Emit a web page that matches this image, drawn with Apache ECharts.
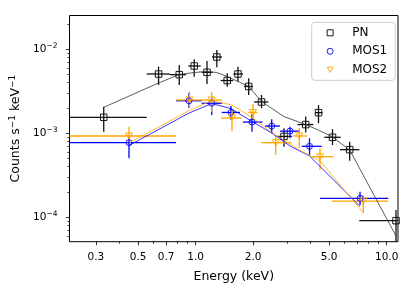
<!DOCTYPE html>
<html><head><meta charset="utf-8">
<script src="https://cdn.jsdelivr.net/npm/echarts@6/dist/echarts.min.js"></script>
<style>html,body{margin:0;padding:0;background:#fff}#c{width:415px;height:294px}</style>
</head><body><div id="c"></div>
<script>
// ---- PN ----
const pnE      = [0.330,0.639,0.820,0.982,1.146,1.290,1.462,1.665,1.894,2.211,2.900,3.767,4.395,5.203,6.40,11.19];
const pnELo    = [0.20,0.554,0.733,0.915,1.075,1.217,1.352,1.573,1.790,2.020,2.674,3.404,4.213,4.713,5.696,7.19];
const pnEHi    = [0.554,0.733,0.890,1.062,1.227,1.373,1.573,1.768,1.988,2.399,3.193,4.128,4.624,5.744,7.19,15];
const pnRate   = [1.55e-3,5.08e-3,4.99e-3,6.33e-3,5.32e-3,8.10e-3,4.25e-3,5.08e-3,3.61e-3,2.36e-3,9.17e-4,1.27e-3,1.76e-3,8.96e-4,6.38e-4,9.12e-5];
const pnRateHi = [2.07e-3,6.21e-3,6.50e-3,7.60e-3,7.26e-3,9.81e-3,5.18e-3,6.21e-3,4.52e-3,2.86e-3,1.15e-3,1.58e-3,2.17e-3,1.12e-3,7.94e-4,1.22e-4];
const pnRateLo = [1.045e-3,3.76e-3,3.76e-3,4.72e-3,3.86e-3,6.11e-3,3.59e-3,4.12e-3,2.86e-3,1.99e-3,6.92e-4,1.02e-3,1.32e-3,7.26e-4,4.72e-4,4e-5];
const pnModel  = [2.04e-3,3.97e-3,5.01e-3,5.29e-3,5.45e-3,5.29e-3,4.75e-3,4.14e-3,3.61e-3,2.39e-3,1.58e-3,1.27e-3,1.09e-3,9.04e-4,6.33e-4,5.98e-5];
// ---- MOS1 ----
const m1E      = [0.4475,0.922,1.213,1.530,1.971,2.500,3.117,3.944,7.25];
const m1ELo    = [0.20,0.789,1.075,1.368,1.768,2.306,2.763,3.589,4.476];
const m1EHi    = [0.789,1.075,1.373,1.706,2.237,2.763,3.517,4.568,10.2];
const m1Rate   = [7.73e-4,2.44e-3,2.28e-3,1.77e-3,1.36e-3,1.22e-3,1.06e-3,7.00e-4,1.68e-4];
const m1RateHi = [9.29e-4,3.02e-3,2.71e-3,2.11e-3,1.70e-3,1.47e-3,1.20e-3,8.71e-4,2.02e-4];
const m1RateLo = [5.04e-4,2.00e-3,1.65e-3,1.44e-3,1.04e-3,1.00e-3,8.71e-4,5.52e-4,1.40e-4];
const m1Model  = [7.16e-4,1.74e-3,2.26e-3,1.97e-3,1.38e-3,1.01e-3,7.06e-4,5.37e-4,1.35e-4];
// ---- MOS2 ----
const m2E      = [0.4475,0.928,1.213,1.549,1.995,2.624,3.487,4.476,7.54];
const m2ELo    = [0.20,0.789,1.066,1.357,1.885,2.198,3.232,4.049,5.152];
const m2EHi    = [0.789,1.075,1.373,1.741,2.101,3.182,3.827,5.253,10.2];
const m2Rate   = [9.29e-4,2.49e-3,2.49e-3,1.52e-3,1.77e-3,7.73e-4,9.29e-4,5.26e-4,1.56e-4];
const m2RateHi = [1.20e-3,3.13e-3,3.10e-3,1.84e-3,2.23e-3,9.29e-4,1.16e-3,6.62e-4,1.84e-4];
const m2RateLo = [8.32e-4,1.99e-3,1.79e-3,1.06e-3,1.44e-3,5.52e-4,6.68e-4,3.66e-4,1.12e-4];
const m2Model  = [7.67e-4,1.87e-3,2.45e-3,2.17e-3,1.52e-3,9.54e-4,6.33e-4,4.68e-4,1.14e-4];
// ---- axes ----
const xMin = 0.2184, xMax = 11.46;
const yMin = 5.12e-5, yMax = 0.02526;
const xMajorTicks = [0.3,0.5,0.7,1.0,2.0,5.0,10.0];
const xTickLabels = ['0.3','0.5','0.7','1.0','2.0','5.0','10.0'];
const xMinorTicks = [0.4,0.6,0.8,0.9,3,4,6,7,8,9];
const yMajorTicks = [1e-4,1e-3,1e-2];
const yTickExps   = ['\u22124','\u22123','\u22122'];
const yMinorTicks = [6e-5,7e-5,8e-5,9e-5,2e-4,3e-4,4e-4,5e-4,6e-4,7e-4,8e-4,9e-4,2e-3,3e-3,4e-3,5e-3,6e-3,7e-3,8e-3,9e-3,2e-2];
const legendNames = ['PN','MOS1','MOS2'];

const FONT = 'DejaVu Sans';
const DOWN_TRI = 'path://M0,0 L10,0 L5,9 Z';
function findIdx(arr, v){ return arr.findIndex(t => Math.abs(t - v) / t < 1e-6); }

function errSeries(id, E, lo, hi, R, rlo, rhi, color){
  return {
    type:'custom', id:id, silent:true, z:2, xAxisIndex:0, yAxisIndex:0,
    data: E.map((e,i)=>[e, R[i], lo[i], hi[i], rlo[i], rhi[i]]),
    renderItem: function(params, api){
      const cs = params.coordSys;
      const cx = v => Math.max(cs.x, Math.min(cs.x + cs.width, v));
      const cy = v => Math.max(cs.y, Math.min(cs.y + cs.height, v));
      const c = api.coord([api.value(0), api.value(1)]);
      const l = api.coord([api.value(2), api.value(1)]);
      const r = api.coord([api.value(3), api.value(1)]);
      const t = api.coord([api.value(0), api.value(5)]);
      const b = api.coord([api.value(0), api.value(4)]);
      const st = {stroke: color, lineWidth: 1.3};
      return {type:'group', children:[
        {type:'line', shape:{x1:cx(l[0]), y1:c[1], x2:cx(r[0]), y2:c[1]}, style:st},
        {type:'line', shape:{x1:c[0], y1:cy(t[1]), x2:c[0], y2:cy(b[1])}, style:st}
      ]};
    }
  };
}
function markSeries(name, E, R, color, symbol, size){
  return {
    type:'scatter', name:name, z:3, xAxisIndex:0, yAxisIndex:0,
    data: E.map((e,i)=>[e, R[i]]),
    symbol:symbol, symbolSize:size,
    itemStyle:{color:'rgba(0,0,0,0)', borderColor:color, borderWidth:0.9, opacity:1},
    emphasis:{disabled:true}
  };
}
function modelSeries(id, E, M, color){
  return {
    type:'line', id:id, z:4, xAxisIndex:0, yAxisIndex:0,
    data: E.map((e,i)=>[e, M[i]]),
    symbol:'none', showSymbol:false, silent:true,
    lineStyle:{color:color, width:0.8}
  };
}

const tickLine = {color:'#000', width:0.8};
const option = {
  animation:false,
  backgroundColor:'#fff',
  grid:{left:69.5, right:17, top:15.5, bottom:52.3, show:true, borderColor:'#000', borderWidth:1, backgroundColor:'rgba(0,0,0,0)', containLabel:false, outerBoundsMode:'none'},
  legend:{
    data:[{name:legendNames[0], icon:'rect'},{name:legendNames[1], icon:'circle'},{name:legendNames[2], icon:DOWN_TRI}],
    orient:'vertical', left:311.7, top:22.3,
    itemWidth:6, itemHeight:6, itemGap:4.5,
    padding:[3.5,8,3.5,15],
    backgroundColor:'rgba(255,255,255,0.8)', borderColor:'#cccccc', borderWidth:1, borderRadius:3,
    itemStyle:{borderWidth:0.9},
    textStyle:{fontFamily:FONT, fontSize:12, color:'#000', lineHeight:14, padding:[0,0,0,14]},
    selectedMode:false, z:10
  },
  xAxis:[
    {type:'log', logBase:10, min:xMin, max:xMax, gridIndex:0, position:'bottom',
     axisLine:{show:false}, splitLine:{show:false},
     axisTick:{show:true, customValues:xMajorTicks, length:3.5, lineStyle:tickLine},
     axisLabel:{show:true, customValues:xMajorTicks, margin:10.5, color:'#000', fontFamily:FONT, fontSize:10.5,
       formatter: v => xTickLabels[findIdx(xMajorTicks, v)]},
     name:'Energy (keV)', nameLocation:'middle', nameGap:29,
     nameTextStyle:{fontFamily:FONT, fontSize:12.5, color:'#000'}},
    {type:'log', logBase:10, min:xMin, max:xMax, gridIndex:0, position:'bottom',
     axisLine:{show:false}, splitLine:{show:false},
     axisTick:{show:true, customValues:xMinorTicks, length:2, lineStyle:tickLine},
     axisLabel:{show:false}}
  ],
  yAxis:[
    {type:'log', logBase:10, min:yMin, max:yMax, gridIndex:0, position:'left',
     axisLine:{show:false}, splitLine:{show:false},
     axisTick:{show:true, customValues:yMajorTicks, length:3.5, lineStyle:tickLine},
     axisLabel:{show:true, customValues:yMajorTicks, margin:12, color:'#000', fontFamily:FONT, fontSize:10.5,
       formatter: v => '{b|10}{s|' + yTickExps[findIdx(yMajorTicks, v)] + '}',
       rich:{b:{fontFamily:FONT, fontSize:10.5, color:'#000'}, s:{fontFamily:FONT, fontSize:7.5, color:'#000', padding:[0,0,6,0]}}},
     name:'Counts s{s|\u22121} keV{s|\u22121}', nameLocation:'middle', nameGap:45,
     nameTextStyle:{fontFamily:FONT, fontSize:12.5, color:'#000',
       rich:{s:{fontFamily:FONT, fontSize:9, color:'#000', padding:[0,0,7,0]}}}},
    {type:'log', logBase:10, min:yMin, max:yMax, gridIndex:0, position:'left',
     axisLine:{show:false}, splitLine:{show:false},
     axisTick:{show:true, customValues:yMinorTicks, length:2, lineStyle:tickLine},
     axisLabel:{show:false}}
  ],
  series:[
    errSeries('pnErr', pnE, pnELo, pnEHi, pnRate, pnRateLo, pnRateHi, '#111'),
    errSeries('m1Err', m1E, m1ELo, m1EHi, m1Rate, m1RateLo, m1RateHi, '#0000ff'),
    errSeries('m2Err', m2E, m2ELo, m2EHi, m2Rate, m2RateLo, m2RateHi, '#ffa500'),
    markSeries('PN', pnE, pnRate, '#000', 'rect', 6.5),
    markSeries('MOS1', m1E, m1Rate, '#0000ff', 'circle', 6),
    markSeries('MOS2', m2E, m2Rate, '#ffa500', DOWN_TRI, [7,6]),
    modelSeries('pnModel', pnE, pnModel, '#333'),
    modelSeries('m1Model', m1E, m1Model, '#0000ff'),
    modelSeries('m2Model', m2E, m2Model, '#ffa500')
  ]
};
const chart = echarts.init(document.getElementById('c'), null, {renderer:'canvas'});
chart.setOption(option);
</script>
</body></html>
